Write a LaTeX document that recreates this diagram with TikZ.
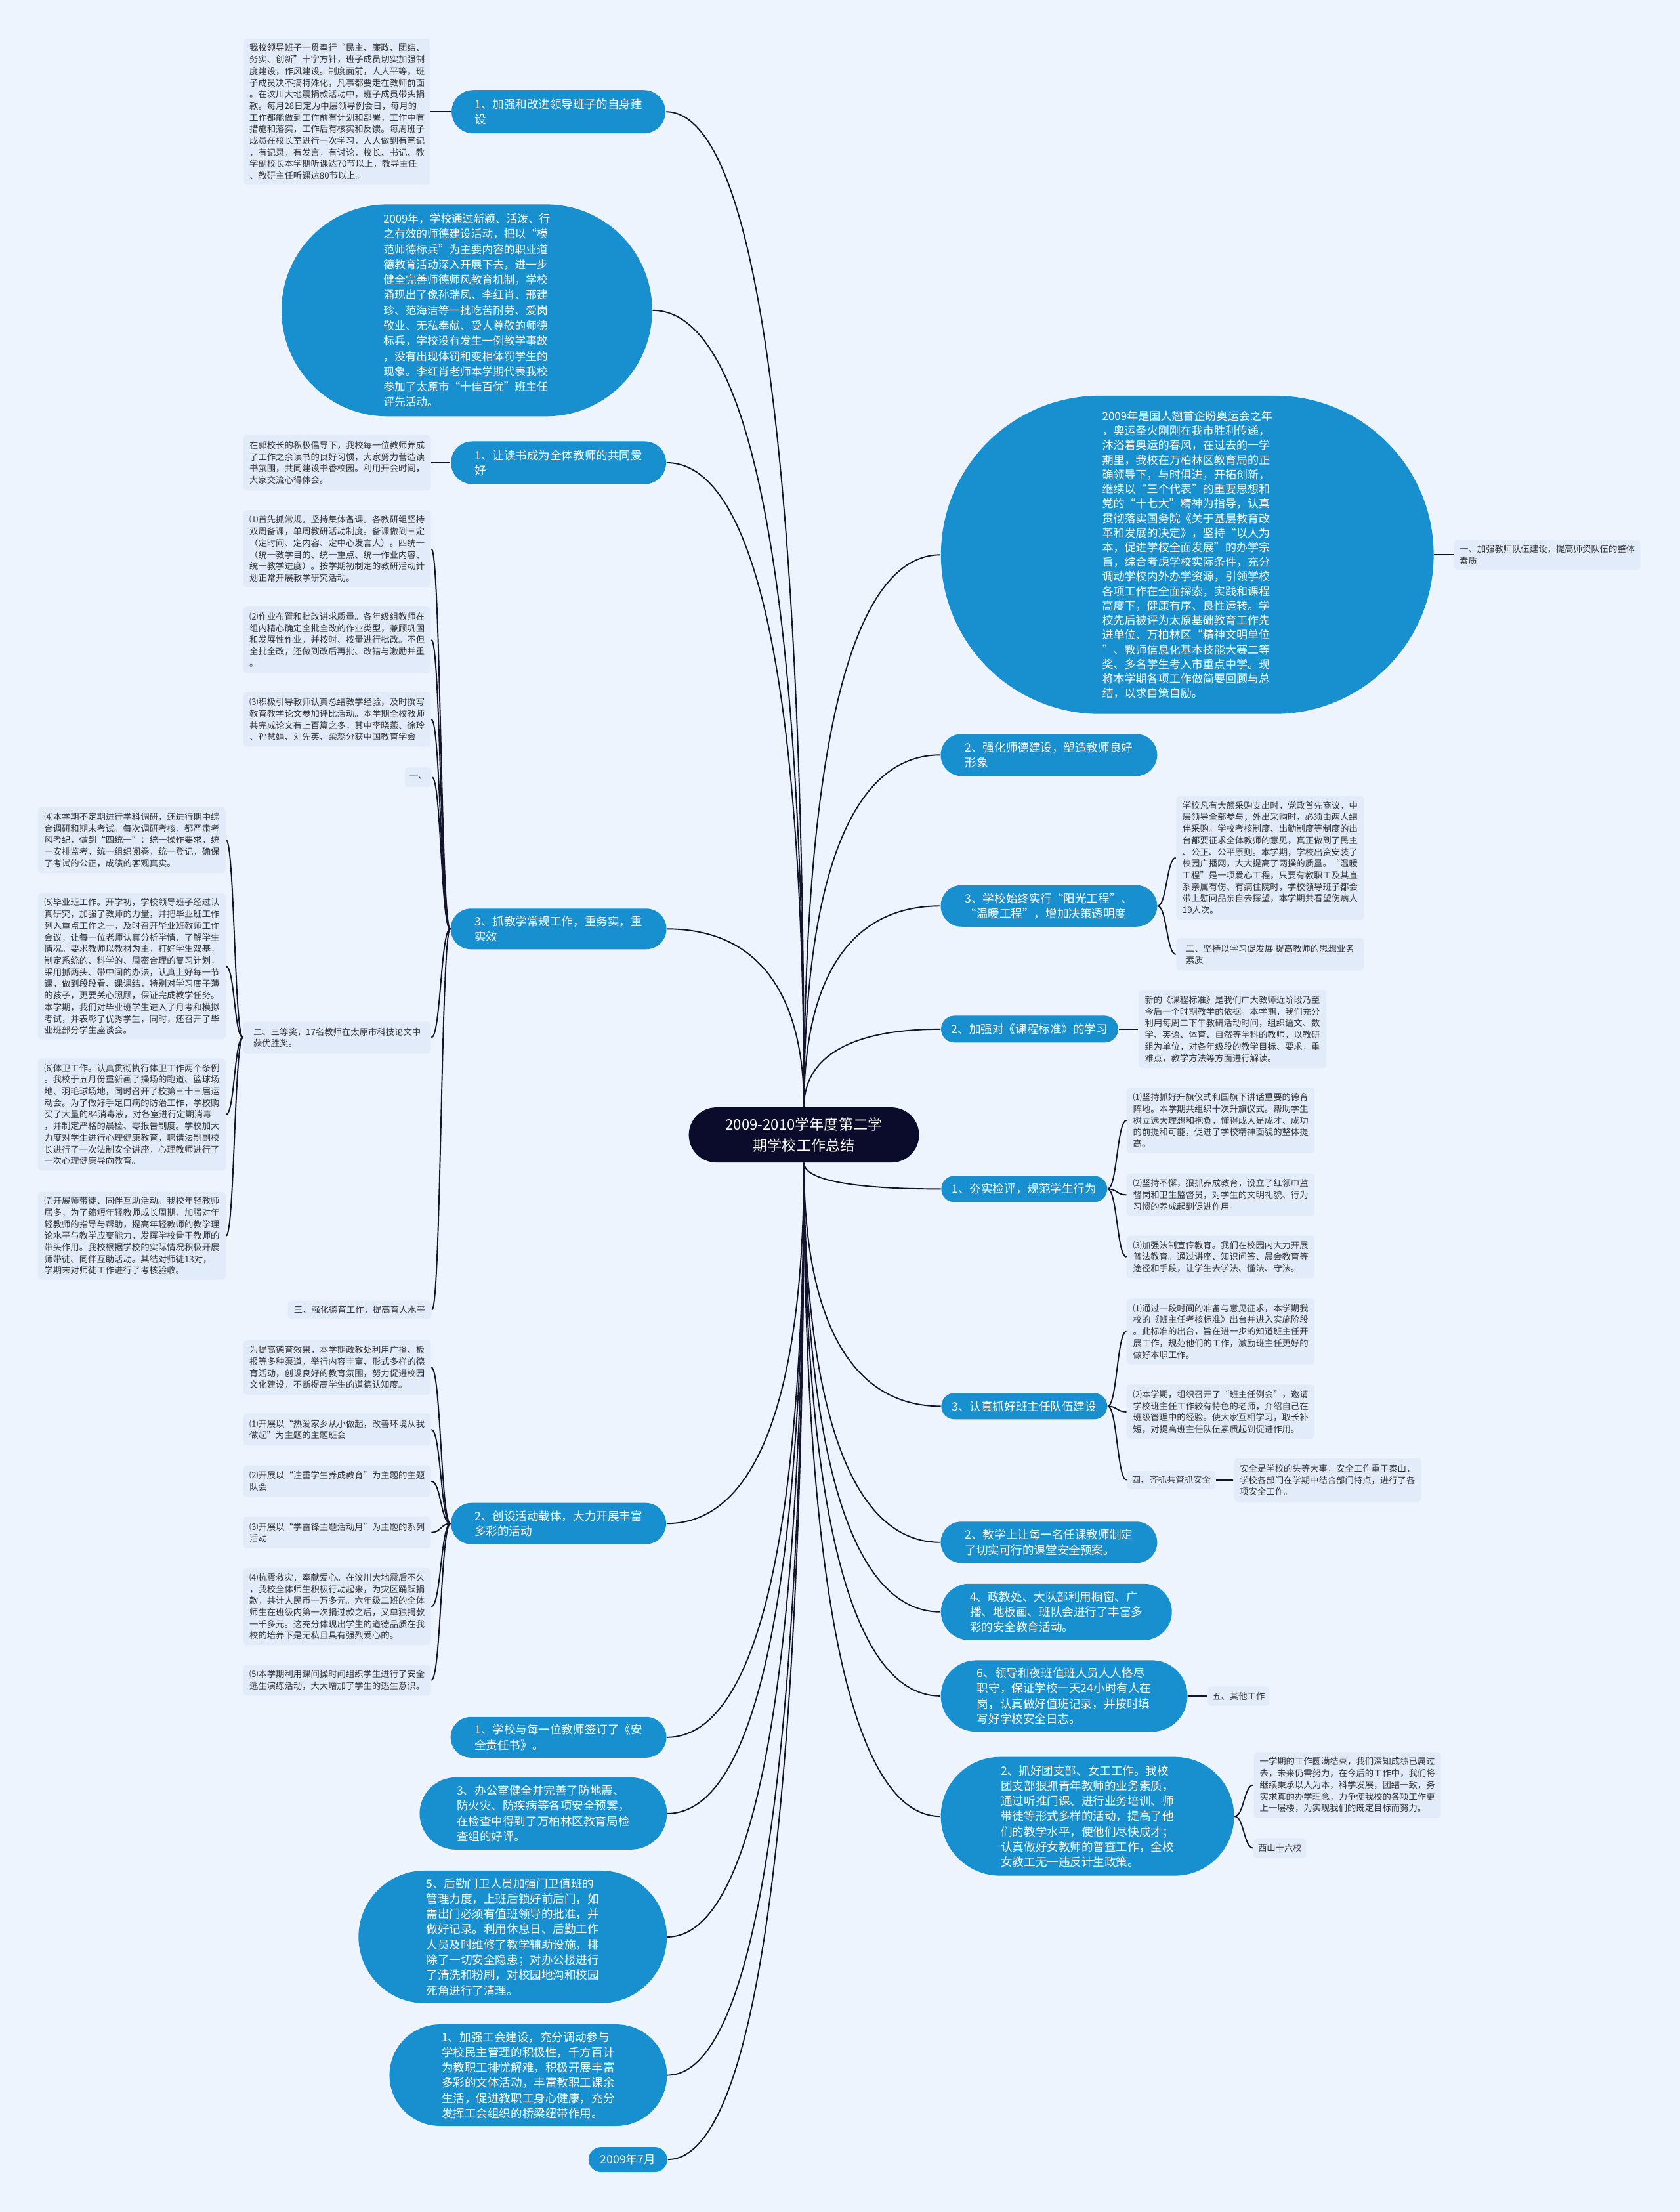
\documentclass[tikz,border=0pt]{standalone}
\usepackage{fontspec}
\setmainfont{Noto Sans CJK SC}
\usetikzlibrary{shapes.misc,calc}

\definecolor{bgblue}{HTML}{EEF4FD}
\definecolor{notefill}{HTML}{E2EBFA}
\definecolor{topicblue}{HTML}{1890D0}
\definecolor{rootnavy}{HTML}{0B0B2B}
\definecolor{linkdark}{HTML}{14142C}
\definecolor{notetext}{HTML}{333333}

\tikzset{
  sz/.style 2 args={minimum width=#1cm, minimum height=#2cm},
  topic/.style={rounded rectangle, fill=topicblue, text=white, align=left,
    inner xsep=1pt, inner ysep=1pt, font=\fontsize{5pt}{6.63pt}\selectfont},
  rootnode/.style={rounded rectangle, fill=rootnavy, text=white, align=center,
    inner sep=1pt, font=\fontsize{6.3pt}{8.9pt}\selectfont},
  note/.style={rectangle, rounded corners=1.5pt, fill=notefill, text=notetext,
    align=left, inner xsep=1.5pt, inner ysep=1pt, font=\fontsize{3.8pt}{5.04pt}\selectfont},
  link/.style={draw=linkdark, line width=0.55pt},
  vbranch/.style={to path={.. controls ($(\tikztostart)!0.6!(\tikztostart|-\tikztotarget)$)
    and ($(\tikztotarget)!0.7!(\tikztotarget-|\tikztostart)$) .. (\tikztotarget)}},
  hbranch/.style={to path={.. controls ($(\tikztostart)!0.5!(\tikztostart-|\tikztotarget)$)
    and ($(\tikztotarget)!0.5!(\tikztotarget-|\tikztostart)$) .. (\tikztotarget)}},
}

\begin{document}
\begin{tikzpicture}[x=0.0215cm,y=-0.0215cm]
  \fill[bgblue] (0,0) rectangle (1191,1568);
  \useasboundingbox (0,0) rectangle (1191,1568);

  % centre
  \node[rootnode, sz={3.58}{0.84}] (root) at (570,804.5) {2009-2010学年度第二学\\期学校工作总结};

  % left side, upper part
  \node[topic, sz={3.33}{0.66}] (lead) at (396,79.2) {1、加强和改进领导班子的自身建\\设};
  \node[note, sz={2.84}{2.23}] (leadnote) at (239,79.2) {我校领导班子一贯奉行“民主、廉政、团结、\\务实、创新”十字方针，班子成员切实加强制\\度建设，作风建设。制度面前，人人平等，班\\子成员决不搞特殊化，凡事都要走在教师前面\\。在汶川大地震捐款活动中，班子成员带头捐\\款。每月28日定为中层领导例会日，每月的\\工作都能做到工作前有计划和部署，工作中有\\措施和落实，工作后有核实和反馈。每周班子\\成员在校长室进行一次学习，人人做到有笔记\\，有记录，有发言，有讨论，校长、书记、教\\学副校长本学期听课达70节以上，教导主任\\、教研主任听课达80节以上。};
  \node[topic, sz={5.72}{3.23}, font=\fontsize{4.75pt}{6.63pt}\selectfont] (ethics) at (331,220) {2009年，学校通过新颖、活泼、行\\之有效的师德建设活动，把以“模\\范师德标兵”为主要内容的职业道\\德教育活动深入开展下去，进一步\\健全完善师德师风教育机制，学校\\涌现出了像孙瑞凤、李红肖、邢建\\珍、范海洁等一批吃苦耐劳、爱岗\\敬业、无私奉献、受人尊敬的师德\\标兵，学校没有发生一例教学事故\\，没有出现体罚和变相体罚学生的\\现象。李红肖老师本学期代表我校\\参加了太原市“十佳百优”班主任\\评先活动。};
  \node[topic, sz={3.35}{0.65}] (reading) at (396,328) {1、让读书成为全体教师的共同爱\\好};
  \node[note, sz={2.86}{0.84}] (readnote) at (239,328) {在郭校长的积极倡导下，我校每一位教师养成\\了工作之余读书的良好习惯，大家努力营造读\\书氛围，共同建设书香校园。利用开会时间，\\大家交流心得体会。};

  % teaching routine
  \node[topic, sz={3.36}{0.62}] (routine) at (396,658.5) {3、抓教学常规工作，重务实，重\\实效};
  \node[note, sz={2.86}{1.18}] (rt1) at (239,389) {⑴首先抓常规，坚持集体备课。各教研组坚持\\双周备课，单周教研活动制度。备课做到三定\\（定时间、定内容、定中心发言人）。四统一\\（统一教学目的、统一重点、统一作业内容、\\统一教学进度）。按学期初制定的教研活动计\\划正常开展教学研究活动。};
  \node[note, sz={2.86}{1.01}] (rt2) at (239,453.5) {⑵作业布置和批改讲求质量。各年级组教师在\\组内精心确定全批全改的作业类型，兼顾巩固\\和发展性作业，并按时、按量进行批改。不但\\全批全改，还做到改后再批、改错与激励并重\\。};
  \node[note, sz={2.86}{0.83}] (rt3) at (239,510) {⑶积极引导教师认真总结教学经验，及时撰写\\教育教学论文参加评比活动。本学期全校教师\\共完成论文有上百篇之多，其中李晓燕、徐玲\\、孙慧娟、刘先英、梁蕊分获中国教育学会};
  \node[note, sz={0.41}{0.30}] (rtone) at (296.5,551) {一、};
  \node[note, sz={2.86}{0.49}] (rtprize) at (239,735.5) {二、三等奖，17名教师在太原市科技论文中\\获优胜奖。};
  \node[note, sz={2.86}{1.01}] (rt4) at (93.5,595.5) {⑷本学期不定期进行学科调研，还进行期中综\\合调研和期末考试。每次调研考核，都严肃考\\风考纪，做到“四统一”：统一操作要求，统\\一安排监考，统一组织阅卷，统一登记，确保\\了考试的公正，成绩的客观真实。};
  \node[note, sz={2.86}{2.23}] (rt5) at (93.5,685) {⑸毕业班工作。开学初，学校领导班子经过认\\真研究，加强了教师的力量，并把毕业班工作\\列入重点工作之一，及时召开毕业班教师工作\\会议，让每一位老师认真分析学情、了解学生\\情况。要求教师以教材为主，打好学生双基，\\制定系统的、科学的、周密合理的复习计划，\\采用抓两头、带中间的办法，认真上好每一节\\课，做到段段看、课课结，特别对学习底子薄\\的孩子，更要关心照顾，保证完成教学任务。\\本学期，我们对毕业班学生进入了月考和模拟\\考试，并表彰了优秀学生，同时，还召开了毕\\业班部分学生座谈会。};
  \node[note, sz={2.86}{1.71}] (rt6) at (93.5,790) {⑹体卫工作。认真贯彻执行体卫工作两个条例\\。我校于五月份重新画了操场的跑道、篮球场\\地、羽毛球场地，同时召开了校第三十三届运\\动会。为了做好手足口病的防治工作，学校购\\买了大量的84消毒液，对各室进行定期消毒\\，并制定严格的晨检、零报告制度。学校加大\\力度对学生进行心理健康教育，聘请法制副校\\长进行了一次法制安全讲座，心理教师进行了\\一次心理健康导向教育。};
  \node[note, sz={2.86}{1.34}] (rt7) at (93.5,876) {⑺开展师带徒、同伴互助活动。我校年轻教师\\居多，为了缩短年轻教师成长周期，加强对年\\轻教师的指导与帮助，提高年轻教师的教学理\\论水平与教学应变能力，发挥学校骨干教师的\\带头作用。我校根据学校的实际情况积极开展\\师带徒、同伴互助活动。其结对师徒13对，\\学期末对师徒工作进行了考核验收。};
  \node[note, sz={2.19}{0.28}] (rtmoral) at (255,928.5) {三、强化德育工作，提高育人水平};

  % activities
  \node[topic, sz={3.35}{0.63}] (activity) at (396,1080) {2、创设活动载体，大力开展丰富\\多彩的活动};
  \node[note, sz={2.86}{0.83}] (act0) at (239,969.3) {为提高德育效果，本学期政教处利用广播、板\\报等多种渠道，举行内容丰富、形式多样的德\\育活动，创设良好的教育氛围，努力促进校园\\文化建设，不断提高学生的道德认知度。};
  \node[note, sz={2.86}{0.49}] (act1) at (239,1013.3) {⑴开展以“热爱家乡从小做起，改善环境从我\\做起”为主题的主题班会};
  \node[note, sz={2.86}{0.48}] (act2) at (239,1050) {⑵开展以“注重学生养成教育”为主题的主题\\队会};
  \node[note, sz={2.86}{0.48}] (act3) at (239,1086.3) {⑶开展以“学雷锋主题活动月”为主题的系列\\活动};
  \node[note, sz={2.86}{1.17}] (act4) at (239,1138.8) {⑷抗震救灾，奉献爱心。在汶川大地震后不久\\，我校全体师生积极行动起来，为灾区踊跃捐\\款，共计人民币一万多元。六年级二班的全体\\师生在班级内第一次捐过款之后，又单独捐款\\一千多元。这充分体现出学生的道德品质在我\\校的培养下是无私且具有强烈爱心的。};
  \node[note, sz={2.86}{0.47}] (act5) at (239,1191) {⑸本学期利用课间操时间组织学生进行了安全\\逃生演练活动，大大增加了学生的逃生意识。};

  % left side, lower part
  \node[topic, sz={3.36}{0.62}] (contract) at (396,1231.5) {1、学校与每一位教师签订了《安\\全责任书》。};
  \node[topic, sz={3.84}{1.10}] (plans) at (385.2,1285.5) {3、办公室健全并完善了防地震、\\防火灾、防疾病等各项安全预案，\\在检查中得到了万柏林区教育局检\\查组的好评。};
  \node[topic, sz={4.77}{2.02}] (guard) at (363.5,1373) {5、后勤门卫人员加强门卫值班的\\管理力度，上班后锁好前后门，如\\需出门必须有值班领导的批准，并\\做好记录。利用休息日、后勤工作\\人员及时维修了教学辅助设施，排\\除了一切安全隐患；对办公楼进行\\了清洗和粉刷，对校园地沟和校园\\死角进行了清理。};
  \node[topic, sz={4.30}{1.55}] (union) at (374.5,1471) {1、加强工会建设，充分调动参与\\学校民主管理的积极性，千方百计\\为教职工排忧解难，积极开展丰富\\多彩的文体活动，丰富教职工课余\\生活，促进教职工身心健康，充分\\发挥工会组织的桥梁纽带作用。};
  \node[topic, sz={1.27}{0.38}] (date) at (445.2,1530.8) {2009年7月};

  % right side, upper part
  \node[topic, sz={7.58}{4.85}, font=\fontsize{4.85pt}{6.33pt}\selectfont] (intro) at (841.8,393.3) {2009年是国人翘首企盼奥运会之年\\，奥运圣火刚刚在我市胜利传递，\\沐浴着奥运的春风，在过去的一学\\期里，我校在万柏林区教育局的正\\确领导下，与时俱进，开拓创新，\\继续以“三个代表”的重要思想和\\党的“十七大”精神为指导，认真\\贯彻落实国务院《关于基层教育改\\革和发展的决定》，坚持“以人为\\本，促进学校全面发展”的办学宗\\旨，综合考虑学校实际条件，充分\\调动学校内外办学资源，引领学校\\各项工作在全面探索，实践和课程\\高度下，健康有序、良性运转。学\\校先后被评为太原基础教育工作先\\进单位、万柏林区“精神文明单位\\”、教师信息化基本技能大赛二等\\奖、多名学生考入市重点中学。现\\将本学期各项工作做简要回顾与总\\结，以求自策自励。};
  \node[note, sz={2.84}{0.46}] (teamnote) at (1097,393.3) {一、加强教师队伍建设，提高师资队伍的整体\\素质};
  \node[topic, sz={3.37}{0.64}] (morality) at (743.7,535.2) {2、强化师德建设，塑造教师良好\\形象};
  \node[topic, sz={3.37}{0.63}] (sunshine) at (743.7,642.2) {3、学校始终实行“阳光工程”、\\“温暖工程”，增加决策透明度};
  \node[note, sz={2.86}{1.89}] (sunnote) at (900.5,608) {学校凡有大额采购支出时，党政首先商议，中\\层领导全部参与；外出采购时，必须由两人结\\伴采购。学校考核制度、出勤制度等制度的出\\台都要征求全体教师的意见，真正做到了民主\\、公正、公平原则。本学期，学校出资安装了\\校园广播网，大大提高了两操的质量。“温暖\\工程”是一项爱心工程，只要有教职工及其直\\系亲属有伤、有病住院时，学校领导班子都会\\带上慰问品亲自去探望，本学期共看望伤病人\\19人次。};
  \node[note, sz={2.86}{0.49}] (sunstudy) at (900.5,676.5) {二、坚持以学习促发展 提高教师的思想业务\\素质};
  \node[topic, sz={2.77}{0.41}] (standard) at (730,729.5) {2、加强对《课程标准》的学习};
  \node[note, sz={2.87}{1.18}] (stdnote) at (873.8,729.5) {新的《课程标准》是我们广大教师近阶段乃至\\今后一个时期教学的依据。本学期，我们充分\\利用每周二下午教研活动时间，组织语文、数\\学、英语、体育、自然等学科的教师，以教研\\组为单位，对各年级段的教学目标、要求，重\\难点，教学方法等方面进行解读。};

  % right side, lower part
  \node[topic, sz={2.60}{0.40}] (behave) at (726.2,842.8) {1、夯实检评，规范学生行为};
  \node[note, sz={2.86}{1.00}] (bh1) at (865.5,794.2) {⑴坚持抓好升旗仪式和国旗下讲话重要的德育\\阵地。本学期共组织十次升旗仪式。帮助学生\\树立远大理想和抱负，懂得成人是成才、成功\\的前提和可能，促进了学校精神面貌的整体提\\高。};
  \node[note, sz={2.86}{0.65}] (bh2) at (865.5,847) {⑵坚持不懈，狠抓养成教育，设立了红领巾监\\督岗和卫生监督员，对学生的文明礼貌、行为\\习惯的养成起到促进作用。};
  \node[note, sz={2.86}{0.65}] (bh3) at (865.5,891) {⑶加强法制宣传教育。我们在校园内大力开展\\普法教育。通过讲座、知识问答、晨会教育等\\途径和手段，让学生去学法、懂法、守法。};
  \node[topic, sz={2.60}{0.40}] (tutor) at (726.2,996.8) {3、认真抓好班主任队伍建设};
  \node[note, sz={2.86}{1.00}] (tu1) at (865.5,943.8) {⑴通过一段时间的准备与意见征求，本学期我\\校的《班主任考核标准》出台并进入实施阶段\\。此标准的出台，旨在进一步的知道班主任开\\展工作，规范他们的工作，激励班主任更好的\\做好本职工作。};
  \node[note, sz={2.86}{0.83}] (tu2) at (865.5,1000.8) {⑵本学期，组织召开了“班主任例会”，邀请\\学校班主任工作较有特色的老师，介绍自己在\\班级管理中的经验。使大家互相学习，取长补\\短，对提高班主任队伍素质起到促进作用。};
  \node[note, sz={1.35}{0.28}] (tusafe) at (830.5,1049.1) {四、齐抓共管抓安全};
  \node[note, sz={2.86}{0.66}] (tusafenote) at (941.2,1049.2) {安全是学校的头等大事，安全工作重于泰山，\\学校各部门在学期中结合部门特点，进行了各\\项安全工作。};
  \node[topic, sz={3.37}{0.63}] (lesson) at (743.7,1093.3) {2、教学上让每一名任课教师制定\\了切实可行的课堂安全预案。};
  \node[topic, sz={3.59}{0.86}] (campaign) at (749,1142.6) {4、政教处、大队部利用橱窗、广\\播、地板画、班队会进行了丰富多\\彩的安全教育活动。};
  \node[topic, sz={3.83}{1.09}] (duty) at (754.5,1202.2) {6、领导和夜班值班人员人人恪尽\\职守，保证学校一天24小时有人在\\岗，认真做好值班记录，并按时填\\写好学校安全日志。};
  \node[note, sz={0.94}{0.29}] (dutyother) at (878.2,1202.3) {五、其他工作};
  \node[topic, sz={4.54}{1.81}] (league) at (771,1287.5) {2、抓好团支部、女工工作。我校\\团支部狠抓青年教师的业务素质，\\通过听推门课、进行业务培训、师\\带徒等形式多样的活动，提高了他\\们的教学水平，使他们尽快成才；\\认真做好女教师的普查工作，全校\\女教工无一违反计生政策。};
  \node[note, sz={2.85}{1.00}] (leaguenote) at (955.3,1265.3) {一学期的工作圆满结束，我们深知成绩已属过\\去，未来仍需努力，在今后的工作中，我们将\\继续秉承以人为本，科学发展，团结一致，务\\实求真的办学理念，力争使我校的各项工作更\\上一层楼，为实现我们的既定目标而努力。};
  \node[note, sz={0.80}{0.30}] (school) at (907.5,1310) {西山十六校};

  % branches from the centre
  \foreach \n in {lead,ethics,reading,routine}
    \draw[link] (root.north) to[vbranch] (\n.east);
  \foreach \n in {intro,morality,sunshine,standard}
    \draw[link] (root.north) to[vbranch] (\n.west);
  \foreach \n in {behave,tutor,lesson,campaign,duty,league}
    \draw[link] (root.south) to[vbranch] (\n.west);
  \foreach \n in {activity,contract,plans,guard,union,date}
    \draw[link] (root.south) to[vbranch] (\n.east);

  % sub-branches
  \draw[link] (lead.west) to[hbranch] (leadnote.east);
  \draw[link] (reading.west) to[hbranch] (readnote.east);
  \foreach \n in {rt1,rt2,rt3,rtone,rtprize,rtmoral}
    \draw[link] (routine.west) to[hbranch] (\n.east);
  \foreach \n in {rt4,rt5,rt6,rt7}
    \draw[link] (rtprize.west) to[hbranch] (\n.east);
  \foreach \n in {act0,act1,act2,act3,act4,act5}
    \draw[link] (activity.west) to[hbranch] (\n.east);
  \draw[link] (intro.east) to[hbranch] (teamnote.west);
  \foreach \n in {sunnote,sunstudy}
    \draw[link] (sunshine.east) to[hbranch] (\n.west);
  \draw[link] (standard.east) to[hbranch] (stdnote.west);
  \foreach \n in {bh1,bh2,bh3}
    \draw[link] (behave.east) to[hbranch] (\n.west);
  \foreach \n in {tu1,tu2,tusafe}
    \draw[link] (tutor.east) to[hbranch] (\n.west);
  \draw[link] (tusafe.east) to[hbranch] (tusafenote.west);
  \draw[link] (duty.east) to[hbranch] (dutyother.west);
  \foreach \n in {leaguenote,school}
    \draw[link] (league.east) to[hbranch] (\n.west);
\end{tikzpicture}
\end{document}
